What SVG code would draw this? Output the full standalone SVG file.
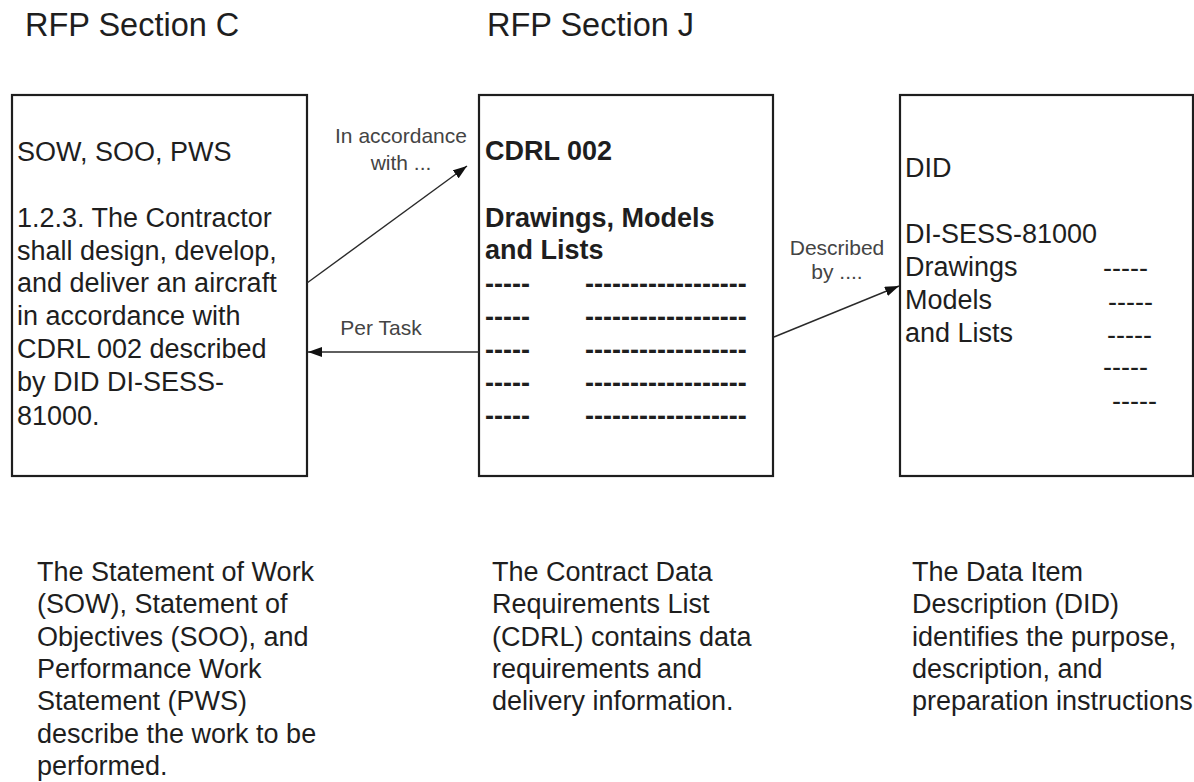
<svg xmlns="http://www.w3.org/2000/svg" width="1194" height="782" viewBox="0 0 1194 782">
  <style>
    text { font-family: "Liberation Sans", Arial, sans-serif; fill: #1e1e1e; }
    .title { font-size: 32.5px; }
    .body { font-size: 27px; }
    .bold { font-size: 27px; font-weight: bold; }
    .label { font-size: 21px; fill: #444; text-anchor: middle; }
    .box { fill: #fff; stroke: #1e1e1e; stroke-width: 2.2; }
    .conn { stroke: #2a2a2a; stroke-width: 1.4; fill: none; }
  </style>
  <defs>
    <marker id="arrow" viewBox="0 0 14 10" refX="14" refY="5" markerWidth="14" markerHeight="10" markerUnits="userSpaceOnUse" orient="auto">
      <path d="M0,0 L14,5 L0,10 Z" fill="#111"/>
    </marker>
  </defs>
  <rect width="1194" height="782" fill="#fff"/>

  <!-- section headings -->
  <text class="title" x="25" y="36">RFP Section C</text>
  <text class="title" x="487" y="36">RFP Section J</text>

  <!-- Section C: SOW / SOO / PWS -->
  <g id="node-sow">
    <rect class="box" x="12" y="95" width="295" height="381"/>
    <text class="body" x="17" y="161">SOW, SOO, PWS</text>
    <text class="body" x="17" y="227">1.2.3. The Contractor</text>
    <text class="body" x="17" y="260">shall design, develop,</text>
    <text class="body" x="17" y="292">and deliver an aircraft</text>
    <text class="body" x="17" y="325">in accordance with</text>
    <text class="body" x="17" y="358">CDRL 002 described</text>
    <text class="body" x="17" y="391">by DID DI-SESS-</text>
    <text class="body" x="17" y="425">81000.</text>
  </g>

  <!-- Section J: CDRL -->
  <g id="node-cdrl">
    <rect class="box" x="479" y="95" width="294" height="381"/>
    <text class="bold" x="485" y="160">CDRL 002</text>
    <text class="bold" x="485" y="227">Drawings, Models</text>
    <text class="bold" x="485" y="259">and Lists</text>
    <text class="bold" x="485" y="293">-----</text>
    <text class="bold" x="585" y="293">------------------</text>
    <text class="bold" x="485" y="326">-----</text>
    <text class="bold" x="585" y="326">------------------</text>
    <text class="bold" x="485" y="359">-----</text>
    <text class="bold" x="585" y="359">------------------</text>
    <text class="bold" x="485" y="392">-----</text>
    <text class="bold" x="585" y="392">------------------</text>
    <text class="bold" x="485" y="425">-----</text>
    <text class="bold" x="585" y="425">------------------</text>
  </g>

  <!-- Data Item Description -->
  <g id="node-did">
    <rect class="box" x="900" y="95" width="293" height="381"/>
    <text class="body" x="905" y="177">DID</text>
    <text class="body" x="905" y="243">DI-SESS-81000</text>
    <text class="body" x="905" y="276">Drawings</text>
    <text class="body" x="905" y="309">Models</text>
    <text class="body" x="905" y="342">and Lists</text>
    <text class="body" x="1103" y="277">-----</text>
    <text class="body" x="1108" y="311">-----</text>
    <text class="body" x="1107" y="344">-----</text>
    <text class="body" x="1103" y="376">-----</text>
    <text class="body" x="1112" y="410">-----</text>
  </g>

  <!-- connectors -->
  <g id="connectors">
    <line class="conn" x1="307" y1="283" x2="467" y2="166" marker-end="url(#arrow)"/>
    <line class="conn" x1="479" y1="352" x2="308" y2="352" marker-end="url(#arrow)"/>
    <line class="conn" x1="774" y1="337" x2="899" y2="286" marker-end="url(#arrow)"/>
    <text class="label" x="401" y="143">In accordance</text>
    <text class="label" x="401" y="170">with ...</text>
    <text class="label" x="381" y="335">Per Task</text>
    <text class="label" x="837" y="255">Described</text>
    <text class="label" x="837" y="279">by ....</text>
  </g>

  <!-- captions -->
  <g id="caption-sow">
    <text class="body" x="37" y="581">The Statement of Work</text>
    <text class="body" x="37" y="613">(SOW), Statement of</text>
    <text class="body" x="37" y="646">Objectives (SOO), and</text>
    <text class="body" x="37" y="678">Performance Work</text>
    <text class="body" x="37" y="710">Statement (PWS)</text>
    <text class="body" x="37" y="743">describe the work to be</text>
    <text class="body" x="37" y="775">performed.</text>
  </g>
  <g id="caption-cdrl">
    <text class="body" x="492" y="581">The Contract Data</text>
    <text class="body" x="492" y="613">Requirements List</text>
    <text class="body" x="492" y="646">(CDRL) contains data</text>
    <text class="body" x="492" y="678">requirements and</text>
    <text class="body" x="492" y="710">delivery information.</text>
  </g>
  <g id="caption-did">
    <text class="body" x="912" y="581">The Data Item</text>
    <text class="body" x="912" y="613">Description (DID)</text>
    <text class="body" x="912" y="646">identifies the purpose,</text>
    <text class="body" x="912" y="678">description, and</text>
    <text class="body" x="912" y="710">preparation instructions.</text>
  </g>
</svg>
